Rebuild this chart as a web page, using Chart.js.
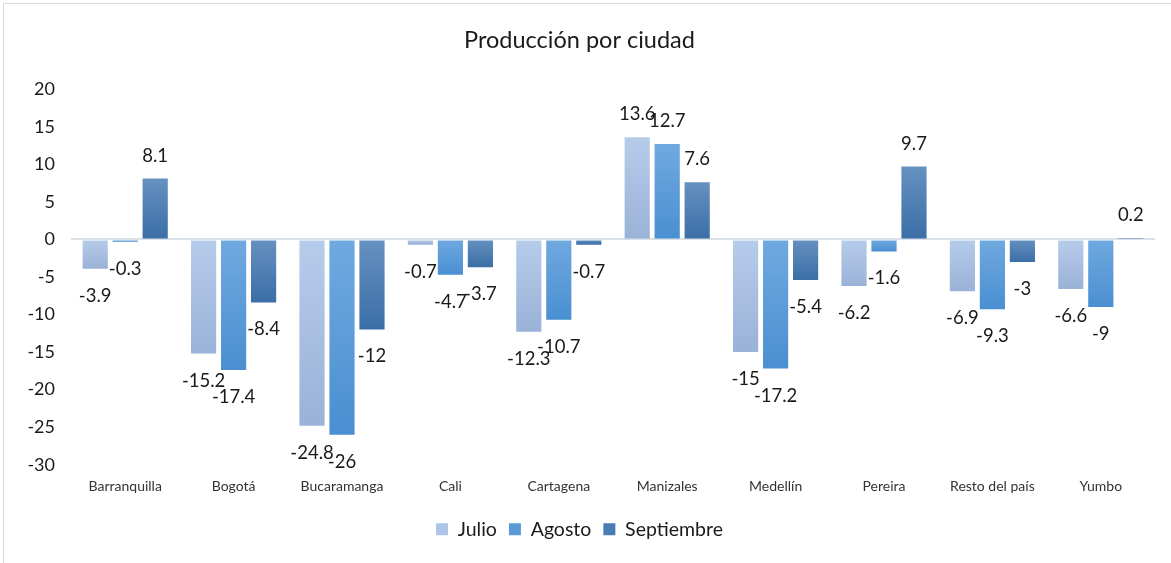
<!DOCTYPE html>
<html>
<head>
<meta charset="utf-8">
<script src="https://cdn.jsdelivr.net/npm/chart.js@4.4.0/dist/chart.umd.min.js"></script>
<style>
    html, body { margin: 0; padding: 0; background: #fff; overflow: hidden; }
    #frame {
        position: absolute; left: 3px; top: 3px;
        width: 1168px; height: 560px;
        border-top: 1px solid #d9d9d9; border-left: 1px solid #d9d9d9;
    }
    #chart { display: block; }
</style>
</head>
<body>
<div id="frame"><canvas id="chart" width="1167" height="559"></canvas></div>
<script>
// 数据
const ciudades = ['Barranquilla', 'Bogotá', 'Bucaramanga', 'Cali', 'Cartagena',
    'Manizales', 'Medellín', 'Pereira', 'Resto del país', 'Yumbo'];
const julio = [-3.9, -15.2, -24.8, -0.7, -12.3, 13.6, -15, -6.2, -6.9, -6.6];
const agosto = [-0.3, -17.4, -26, -4.7, -10.7, 12.7, -17.2, -1.6, -9.3, -9];
const septiembre = [8.1, -8.4, -12, -3.7, -0.7, 7.6, -5.4, 9.7, -3, 0.2];
const serieNombres = ['Julio', 'Agosto', 'Septiembre'];
const yTicks = [20, 15, 10, 5, 0, -5, -10, -15, -20, -25, -30];

// 颜色 (上浅下深的渐变)
const gradTop = ['#b6cceb', '#70a9e0', '#6691c0'];
const gradBottom = ['#9ab2d7', '#4a8fd2', '#3a6ea6'];
const legendColors = ['#adc6e8', '#5b9bd5', '#4a7db4'];

const FONT = 'Lato, "Open Sans", sans-serif';

/**
 * 每根柱子单独的渐变
 */
function barGradient(idx) {
    return function(context) {
        const chart = context.chart;
        const y = chart.scales.y;
        if (!y || context.type !== 'data') return gradTop[idx];
        const v = context.parsed ? context.parsed.y : context.raw;
        const top = y.getPixelForValue(Math.max(v, 0));
        const bottom = y.getPixelForValue(Math.min(v, 0));
        if (!isFinite(top) || !isFinite(bottom) || top === bottom) return gradTop[idx];
        const g = chart.ctx.createLinearGradient(0, top, 0, bottom);
        g.addColorStop(0, gradTop[idx]);
        g.addColorStop(1, gradBottom[idx]);
        return g;
    };
}

// 数据标签插件
const valueLabels = {
    id: 'valueLabels',
    afterDatasetsDraw(chart) {
        const ctx = chart.ctx;
        ctx.save();
        ctx.font = '18.5px ' + FONT;
        ctx.fillStyle = '#1a1a1a';
        ctx.textAlign = 'center';
        ctx.textBaseline = 'middle';
        chart.data.datasets.forEach(function(ds, i) {
            const meta = chart.getDatasetMeta(i);
            meta.data.forEach(function(bar, j) {
                const v = ds.data[j];
                const yPos = v >= 0 ? bar.y - 23 : bar.y + 27;
                ctx.fillText(String(v), bar.x, yPos);
            });
        });
        ctx.restore();
    }
};

const seriesData = [julio, agosto, septiembre];

new Chart(document.getElementById('chart'), {
    type: 'bar',
    data: {
        labels: ciudades,
        datasets: seriesData.map(function(arr, i) {
            return {
                label: serieNombres[i],
                data: arr,
                backgroundColor: barGradient(i),
                borderWidth: 0,
                categoryPercentage: 0.83,
                barPercentage: 0.84
            };
        })
    },
    options: {
        responsive: false,
        animation: false,
        layout: { padding: { top: 10, right: 16, bottom: 14, left: 0 } },
        plugins: {
            title: {
                display: true,
                text: 'Producción por ciudad',
                color: '#1a1a1a',
                font: { family: FONT, size: 23.5, weight: 'normal' },
                padding: { top: 12, bottom: 35 }
            },
            legend: {
                position: 'bottom',
                labels: {
                    color: '#1a1a1a',
                    font: { family: FONT, size: 19.5 },
                    boxWidth: 12,
                    boxHeight: 12,
                    padding: 12,
                    generateLabels: function(chart) {
                        return chart.data.datasets.map(function(ds, i) {
                            return {
                                text: ds.label,
                                fillStyle: legendColors[i],
                                strokeStyle: legendColors[i],
                                lineWidth: 0,
                                datasetIndex: i,
                                fontColor: '#1a1a1a'
                            };
                        });
                    }
                }
            },
            tooltip: { enabled: false }
        },
        scales: {
            x: {
                grid: { display: false, drawTicks: false },
                border: { display: false },
                ticks: {
                    color: '#333',
                    font: { family: FONT, size: 14 },
                    padding: 13,
                    maxRotation: 0
                }
            },
            y: {
                min: -30,
                max: 20,
                afterFit: function(scale) { scale.width = 67; },
                afterBuildTicks: function(scale) {
                    scale.ticks = yTicks.map(function(v) { return { value: v }; });
                },
                border: { display: false },
                grid: {
                    drawTicks: false,
                    color: function(c) { return c.tick && c.tick.value === 0 ? '#dbe1e8' : 'rgba(0,0,0,0)'; },
                    lineWidth: 2
                },
                ticks: {
                    color: '#1a1a1a',
                    font: { family: FONT, size: 18 },
                    padding: 16
                }
            }
        }
    },
    plugins: [valueLabels]
});
</script>
</body>
</html>
